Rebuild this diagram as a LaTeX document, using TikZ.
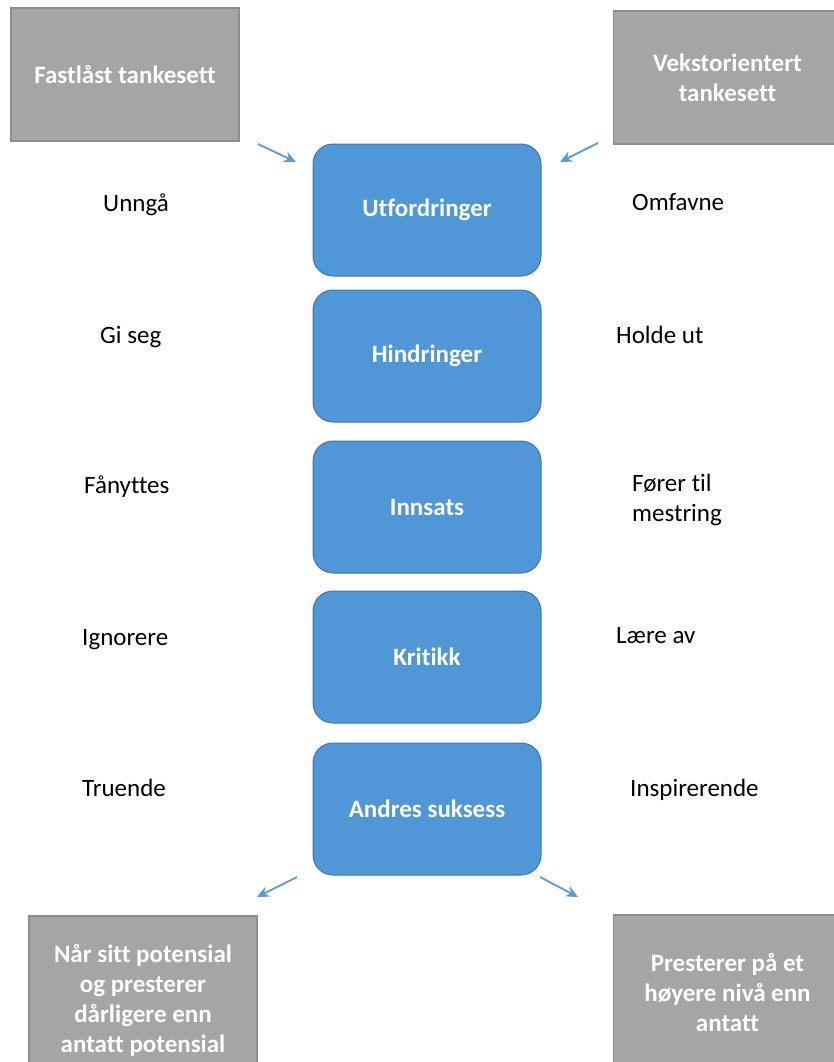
\documentclass[tikz,border=0pt]{standalone}
\usepackage{fontspec}
\setmainfont{Carlito}[Ligatures={NoCommon}]
\usetikzlibrary{arrows.meta}
\definecolor{mindfill}{HTML}{A5A5A5}
\definecolor{mindline}{HTML}{8E8E8E}
\definecolor{topicfill}{HTML}{4F97D7}
\definecolor{topicline}{HTML}{3D77AE}
\definecolor{flowblue}{HTML}{5B9BD5}
\begin{document}
\begin{tikzpicture}[x=1pt,y=-1pt,
  txt/.style={font=\fontsize{25}{30}\selectfont},
  mindset/.style={font=\fontsize{25}{30}\selectfont\bfseries,
    rectangle,fill=mindfill,draw=mindline,line width=1.2pt,text=white,
    align=center,minimum width=228pt},
  topic/.style={font=\fontsize{25}{30}\selectfont\bfseries,
    rectangle,rounded corners=20pt,fill=topicfill,draw=topicline,line width=1pt,
    text=white,minimum width=228pt,minimum height=132pt},
  cue/.style={txt,inner sep=0pt,anchor=base west},
  flow/.style={draw=flowblue,line width=1.8pt,
    -{Stealth[length=12pt,width=11pt]}}]
\useasboundingbox (0,0) rectangle (833,1062);

% mindset boxes
\node[mindset,minimum height=133pt] (fixed) at (125,74.5) {Fastlåst tankesett};
\node[mindset,minimum height=133pt] (growth) at (727.5,77.5) {Vekstorientert\\tankesett};
\node[mindset,minimum height=168pt] (fixedres) at (143,1000) {Når sitt potensial\\og presterer\\dårligere enn\\antatt potensial};
\node[mindset,minimum height=156pt] (growthres) at (727.5,993) {Presterer på et\\høyere nivå enn\\antatt};

% central column
\node[topic] (t1) at (427,210) {Utfordringer};
\node[topic] (t2) at (427,356) {Hindringer};
\node[topic] (t3) at (427,507) {Innsats};
\node[topic] (t4) at (427,657) {Kritikk};
\node[topic] (t5) at (427,809) {Andres suksess};

% reactions, fixed mindset
\node[cue] (l1) at (103,211) {Unngå};
\node[cue] (l2) at (100,343) {Gi seg};
\node[cue] (l3) at (84,493) {Fånyttes};
\node[cue] (l4) at (82,645) {Ignorere};
\node[cue] (l5) at (82,796) {Truende};

% reactions, growth mindset
\node[cue] (r1) at (632,210) {Omfavne};
\node[cue] (r2) at (616,343) {Holde ut};
\node[txt,inner sep=0pt,anchor=west,align=left] (r3) at (632,500) {Fører til\\mestring};
\node[cue] (r4) at (616,643) {Lære av};
\node[cue] (r5) at (630,796) {Inspirerende};

% arrow end points
\coordinate (a1s) at (258,144);
\coordinate (a1e) at (296,162);
\coordinate (a2s) at (598,143);
\coordinate (a2e) at (560,162);
\coordinate (a3s) at (297,877);
\coordinate (a3e) at (257,897);
\coordinate (a4s) at (540,877);
\coordinate (a4e) at (578,897);

\draw[flow] (a1s) -- (a1e);
\draw[flow] (a2s) -- (a2e);
\draw[flow] (a3s) -- (a3e);
\draw[flow] (a4s) -- (a4e);
\end{tikzpicture}
\end{document}
